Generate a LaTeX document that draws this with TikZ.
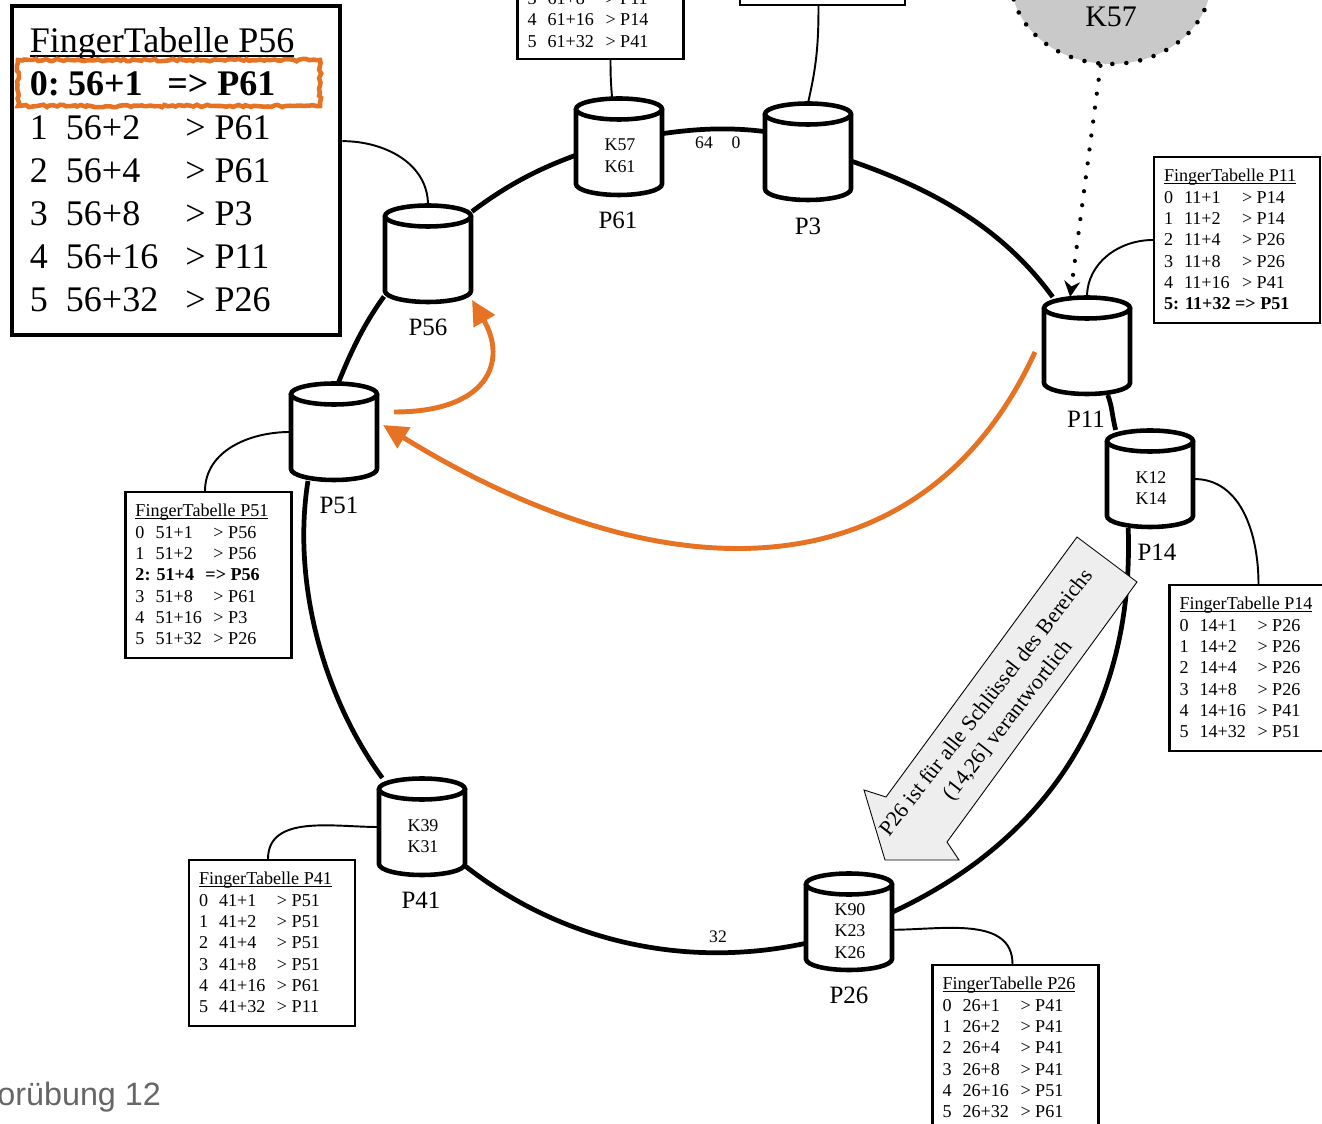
\documentclass[tikz,border=0pt]{standalone}
\usepackage{fontspec}
\setmainfont{Liberation Serif}
\setsansfont{Liberation Sans}
\usetikzlibrary{backgrounds,arrows.meta,shapes.geometric,decorations.pathmorphing}

\definecolor{markorange}{HTML}{E67324}
\definecolor{notegray}{HTML}{EEEEEE}
\definecolor{lookupgray}{HTML}{C9C9C9}

\newcommand{\fingerhead}[1]{\multicolumn{3}{@{}l@{}}{\rule{0pt}{1em}\setbox0\hbox{FingerTabelle #1}\rlap{\rule[-0.12em]{\wd0}{0.05em}}\box0}\\}
\newcommand{\fingerrow}[3]{#1&#2&> #3\\}
\newcommand{\fingerhit}[1]{\multicolumn{3}{@{}l@{}}{\textbf{#1}}\\}
\newcommand{\smallcols}{@{}p{11.4pt}@{}p{33pt}@{}p{38.7pt}@{}}
\newcommand{\largecols}{@{}p{20.5pt}@{}p{68pt}@{}p{77.8pt}@{}}

% Peer: name, position, keys
\newcommand{\peer}[3]{
  \begin{scope}[shift={(#2)}]
    \draw[peerbody] (-43,-38) -- (-43,37) arc[start angle=180,end angle=360,x radius=0.86cm,y radius=0.22cm] -- (43,-38);
    \draw[peerbody] (0,-38) ellipse[x radius=0.86cm,y radius=0.21cm];
  \end{scope}
  \node[peerbox] (#1) at (#2) {};
  \node[peerkeys] (#1keys) at ([xshift=0.02cm,yshift=-0.18cm]#1.center) {#3};
}

\tikzset{
  peerbody/.style={draw,fill=white,line width=2.6pt},
  peerbox/.style={minimum width=88*0.02cm,minimum height=98*0.02cm,inner sep=0pt,outer sep=0pt},
  peerkeys/.style={inner sep=0pt,align=center,font=\fontsize{10.2}{12.3}\selectfont},
  peername/.style={inner sep=0pt,font=\fontsize{14.2}{16}\selectfont},
  fingertable/.style={draw,fill=white,line width=1.2pt,inner xsep=5.7pt,inner ysep=3.73pt,
    font=\fontsize{10.3}{12.15}\selectfont},
  largetable/.style={draw,fill=white,line width=2.8pt,inner xsep=10.2pt,inner ysep=6.22pt,
    font=\fontsize{20.5}{24.5}\selectfont},
  ring/.style={line width=2.7pt},
  tablelink/.style={line width=1.1pt},
  hoplink/.style={markorange,line width=2.8pt,-{Triangle[length=14pt,width=13.5pt]}},
  tick/.style={inner sep=0pt,font=\fontsize{10}{12}\selectfont}
}

\begin{document}
\begin{tikzpicture}[x=0.02cm,y=-0.02cm]
    \path[use as bounding box,clip] (0,0) rectangle (1322,1124);

    % Lookup
    \node[draw=black,fill=lookupgray,ellipse,dash pattern=on 0pt off 8pt,line cap=round,line width=2.6pt,
      minimum width=200*0.02cm,minimum height=168*0.02cm] (K57) at (1111,-20) {};
    \node[peername,font=\fontsize{17}{20}\selectfont] (K57name) at (1111,17) {K57};

    % Peers
    \peer{P61}{619,147}{K57\\K61}
    \peer{P3}{808,152}{}
    \peer{P56}{428,254}{}
    \peer{P51}{334,432}{}
    \peer{P11}{1087,346}{}
    \peer{P14}{1150,479}{K12\\K14}
    \peer{P41}{422,827}{K39\\K31}
    \peer{P26}{849,922}{K90\\K23\\K26}

    \node[peername] (P61name) at (618,220) {P61};
    \node[peername] (P3name) at (808,226) {P3};
    \node[peername] (P56name) at (428,327) {P56};
    \node[peername] (P51name) at (339,505) {P51};
    \node[peername] (P11name) at (1086,419) {P11};
    \node[peername] (P14name) at (1157,552) {P14};
    \node[peername] (P41name) at (421,900) {P41};
    \node[peername] (P26name) at (849,995) {P26};

    % Ring
    \begin{scope}[on background layer]
      \draw[ring] (P61.17) to[out=8,in=173,looseness=0.9] (P3.155);
      \draw[ring] (P3.-12) to[out=-19,in=126,looseness=0.9] (P11.125);
      \draw[ring] (P11.-67) to[out=-70,in=105] (P14.125);
      \draw[ring] (P14.-114) to[out=-88,in=25] (P26.13);
      \draw[ring] (P26.206) to[out=-168,in=-38,looseness=0.9] (P41.-42);
      \draw[ring] (P41.129) to[out=126,in=261,looseness=0.85] (P51.-118);
      \draw[ring] (P51.85) to[out=68,in=234,looseness=0.9] (P56.224);
      \draw[ring] (P56.44) to[out=37,in=200,looseness=0.9] (P61.191);
    \end{scope}

    \node[tick] (tick64) at (704,143) {64};
    \node[tick] (tick0) at (736,143) {0};
    \node[tick] (tick32) at (718,937) {32};

    % Finger tables
    \node[largetable] (tblP56) at (176,170.5) {\begin{tabular}{\largecols}
      \fingerhead{P56}
      \fingerhit{0:\hspace{4.7pt}56+1\hspace{14pt}=> P61}
      \fingerrow{1}{56+2}{P61}
      \fingerrow{2}{56+4}{P61}
      \fingerrow{3}{56+8}{P3}
      \fingerrow{4}{56+16}{P11}
      \fingerrow{5}{56+32}{P26}
    \end{tabular}};
    \node[draw=markorange,line width=2.6pt,minimum width=302*0.02cm,minimum height=46*0.02cm,
      decorate,decoration={random steps,segment length=2pt,amplitude=0.7pt}] (hitbox) at (169,83) {};

    \node[fingertable,anchor=south,inner ysep=3.1pt] (tblP61) at (600.5,60) {\begin{tabular}{\smallcols}
      &&\\
      &&\\
      &&\\
      &&\\
      \fingerrow{3}{61+8}{P11}
      \fingerrow{4}{61+16}{P14}
      \fingerrow{5}{61+32}{P41}
    \end{tabular}};
    \node[fingertable,anchor=south,minimum width=165*0.02cm,minimum height=60*0.02cm] (tblP3) at (822.5,6) {};

    \node[fingertable] (tblP11) at (1237,240) {\begin{tabular}{\smallcols}
      \fingerhead{P11}
      \fingerrow{0}{11+1}{P14}
      \fingerrow{1}{11+2}{P14}
      \fingerrow{2}{11+4}{P26}
      \fingerrow{3}{11+8}{P26}
      \fingerrow{4}{11+16}{P41}
      \fingerhit{5: 11+32 => P51}
    \end{tabular}};
    \node[fingertable] (tblP14) at (1252.5,668) {\begin{tabular}{\smallcols}
      \fingerhead{P14}
      \fingerrow{0}{14+1}{P26}
      \fingerrow{1}{14+2}{P26}
      \fingerrow{2}{14+4}{P26}
      \fingerrow{3}{14+8}{P26}
      \fingerrow{4}{14+16}{P41}
      \fingerrow{5}{14+32}{P51}
    \end{tabular}};
    \node[fingertable] (tblP51) at (208.5,575) {\begin{tabular}{\smallcols}
      \fingerhead{P51}
      \fingerrow{0}{51+1}{P56}
      \fingerrow{1}{51+2}{P56}
      \fingerhit{2: 51+4\hspace{6.5pt}=> P56}
      \fingerrow{3}{51+8}{P61}
      \fingerrow{4}{51+16}{P3}
      \fingerrow{5}{51+32}{P26}
    \end{tabular}};
    \node[fingertable] (tblP41) at (272,943) {\begin{tabular}{\smallcols}
      \fingerhead{P41}
      \fingerrow{0}{41+1}{P51}
      \fingerrow{1}{41+2}{P51}
      \fingerrow{2}{41+4}{P51}
      \fingerrow{3}{41+8}{P51}
      \fingerrow{4}{41+16}{P61}
      \fingerrow{5}{41+32}{P11}
    \end{tabular}};
    \node[fingertable] (tblP26) at (1015.5,1048) {\begin{tabular}{\smallcols}
      \fingerhead{P26}
      \fingerrow{0}{26+1}{P41}
      \fingerrow{1}{26+2}{P41}
      \fingerrow{2}{26+4}{P41}
      \fingerrow{3}{26+8}{P41}
      \fingerrow{4}{26+16}{P51}
      \fingerrow{5}{26+32}{P61}
    \end{tabular}};

    % Table links
    \begin{scope}[on background layer]
      \draw[tablelink] (tblP56.10) to[out=0,in=90] (P56.north);
      \draw[tablelink] ([xshift=0.2cm]tblP61.south) to[out=-90,in=95] (P61.98);
      \draw[tablelink] ([xshift=-0.08cm]tblP3.south) to[out=-90,in=77] (P3.north);
      \draw[tablelink] (tblP11.west) to[out=180,in=90] (P11.north);
      \draw[tablelink] ([xshift=0.12cm]tblP14.north) to[out=90,in=0] (P14.east);
      \draw[tablelink] ([xshift=-0.07cm]tblP51.north) to[out=90,in=180] (P51.west);
      \draw[tablelink] ([xshift=-0.08cm]tblP41.north) to[out=90,in=180] (P41.west);
      \draw[tablelink] ([xshift=-0.06cm]tblP26.north) to[out=90,in=0] (P26.-10);
    \end{scope}

    % Dotted lookup arrow
    \draw[line width=2.4pt,dash pattern=on 0pt off 8pt,line cap=round,
      -{Stealth[length=9pt,width=9pt]}] (K57.-97) -- (P11.109);

    % Responsibility note
    \draw[fill=notegray,line width=0.5pt] (1077,537) -- (1137,582) -- (947,842) -- (959,860)
      -- (885,860) -- (864,790) -- (886,797) -- cycle;
    \node[inner sep=0pt,rotate=52,align=center,font=\fontsize{12.4}{16}\selectfont] (note) at (998,712)
      {P26 ist für alle Schlüssel des Bereichs\\(14,26] verantwortlich};

    % Hops
    \coordinate (hopA) at (394,412);
    \coordinate (hopB) at (1035,352);
    \coordinate (hopC) at (383,425);
    \coordinate (hopD) at (472,300);
    \draw[hoplink] (hopA) .. controls (490,412) and (507,360) .. (hopD);
    \draw[hoplink] (hopB) .. controls (925,592) and (670,602) .. (hopC);

    \node[anchor=west,inner sep=0pt,text=black!60,font=\sffamily\fontsize{18.4}{20}\selectfont] (chapter) at (-3,1097) {orübung 12};
\end{tikzpicture}
\end{document}
